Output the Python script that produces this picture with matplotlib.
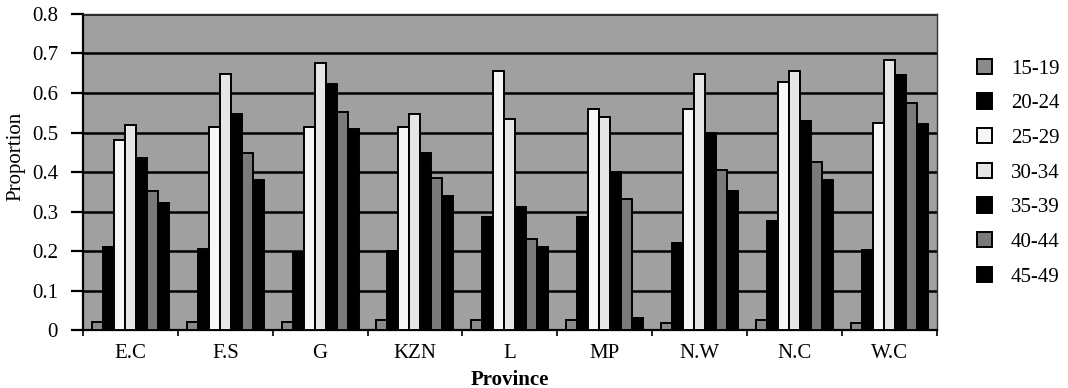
import numpy as np
import matplotlib
matplotlib.use("Agg")
import matplotlib.pyplot as plt

provinces = ["E.C", "F.S", "G", "KZN", "L", "MP", "N.W", "N.C", "W.C"]
age_groups = ["15-19", "20-24", "25-29", "30-34", "35-39", "40-44", "45-49"]

a15_19 = [0.020, 0.020, 0.020, 0.025, 0.025, 0.025, 0.018, 0.025, 0.018]
a20_24 = [0.210, 0.205, 0.196, 0.200, 0.287, 0.287, 0.220, 0.275, 0.203]
a25_29 = [0.480, 0.513, 0.513, 0.513, 0.655, 0.560, 0.560, 0.627, 0.525]
a30_34 = [0.520, 0.647, 0.675, 0.546, 0.535, 0.540, 0.648, 0.655, 0.683]
a35_39 = [0.435, 0.548, 0.624, 0.449, 0.312, 0.400, 0.500, 0.529, 0.645]
a40_44 = [0.352, 0.449, 0.553, 0.385, 0.231, 0.332, 0.405, 0.426, 0.575]
a45_49 = [0.322, 0.380, 0.510, 0.340, 0.211, 0.030, 0.353, 0.380, 0.522]

series = [a15_19, a20_24, a25_29, a30_34, a35_39, a40_44, a45_49]
colors = ["#8a8a8a", "#000000", "#f7f7f7", "#e6e6e6", "#000000", "#7a7a7a", "#000000"]

plt.rcParams["font.family"] = ["Liberation Serif", "DejaVu Serif"]

fig = plt.figure(figsize=(10.68, 3.88), dpi=100)
ax = fig.add_axes([0.0777, 0.149, 0.7993, 0.815])
ax.set_facecolor("#a0a0a0")

x = np.arange(len(provinces))
w = 0.116
for i, (vals, col) in enumerate(zip(series, colors)):
    ax.bar(x + (i - 3) * w, vals, w, color=col, edgecolor="black", linewidth=1.4,
           label=age_groups[i], zorder=3)

ax.set_xlim(-0.5, len(provinces) - 0.5)
ax.set_ylim(0, 0.8)
ax.set_yticks(np.arange(0, 0.81, 0.1))
ax.set_yticklabels(["0"] + [f"{v:.1f}" for v in np.arange(0.1, 0.81, 0.1)])
ax.yaxis.grid(True, color="black", linewidth=1.8, zorder=1)
ax.set_axisbelow(True)

ax.set_xticks(x)
ax.set_xticklabels(provinces)
ax.set_xticks(np.arange(-0.5, len(provinces), 1), minor=True)
ax.tick_params(axis="x", which="major", length=0, labelsize=15, pad=10)
ax.tick_params(axis="x", which="minor", length=4, width=1.2, direction="out")
ax.tick_params(axis="y", length=9, width=1.6, labelsize=15, pad=9)

for s in ["left", "bottom"]:
    ax.spines[s].set_linewidth(1.6)
    ax.spines[s].set_color("black")
for s in ["top", "right"]:
    ax.spines[s].set_linewidth(1.0)
    ax.spines[s].set_color("#333333")

ax.set_ylabel("Proportion", fontsize=15)
ax.yaxis.set_label_coords(-0.068, 0.55)
ax.set_xlabel("Province", fontsize=15, fontweight="bold", labelpad=5)

fig.legend(loc="upper left", bbox_to_anchor=(0.897, 0.897), frameon=False,
           fontsize=15, handlelength=0.75, handleheight=0.75, handletextpad=0.9,
           labelspacing=0.71)

fig.savefig("out.png", dpi=100)
